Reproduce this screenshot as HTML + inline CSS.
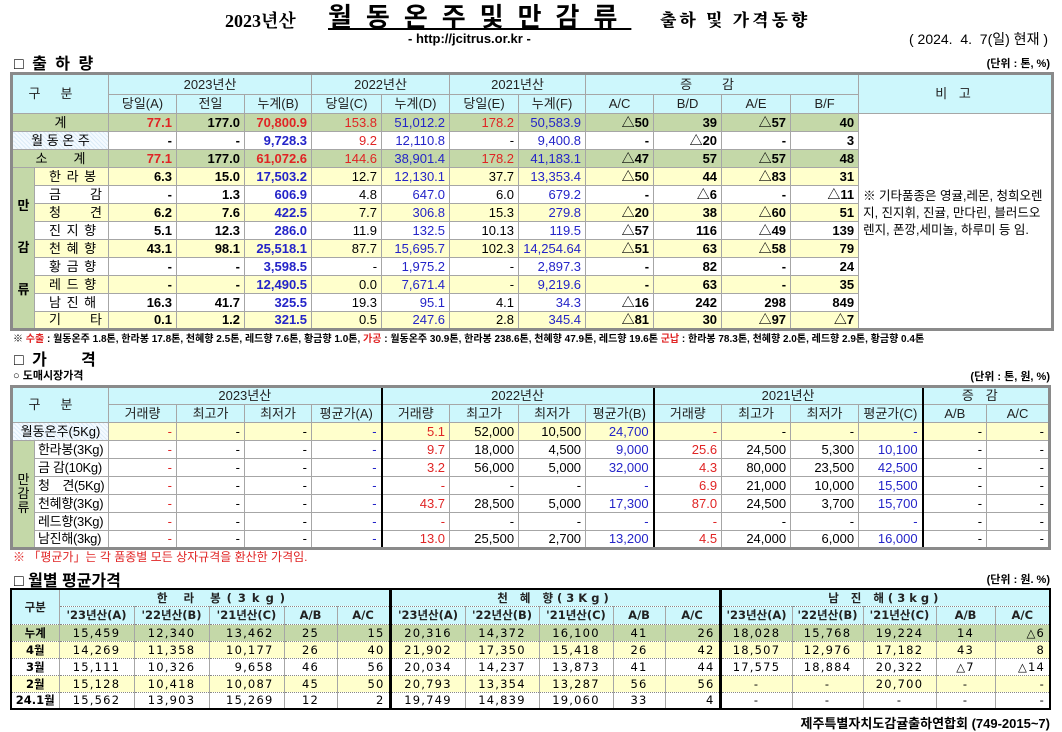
<!DOCTYPE html>
<html><head><meta charset="utf-8">
<style>
*{margin:0;padding:0;box-sizing:border-box}
body{width:1062px;height:732px;background:#fff;position:relative;overflow:hidden;font-family:"Liberation Sans","Noto Sans CJK KR",sans-serif;color:#000}
.a{position:absolute;white-space:pre}
table{position:absolute;border-collapse:collapse;table-layout:fixed}
td{border:1px solid #a6a6a6;font-size:13px;line-height:14px;padding:0 4px;text-align:right;overflow:hidden;white-space:nowrap}
.h{background:#cdf7fc;text-align:center;color:#222}
.g{background:#c4d8a8}
.y{background:#ffffcc}
.w{background:#fff}
.c{text-align:center}
.b{font-weight:bold}
.r{color:#e02424}
.u{color:#2424c8}
.dot{background:repeating-linear-gradient(45deg,#dcecf8 0 1px,#f4faff 1px 3px);text-align:center}
#t1{left:10px;top:72px;width:1041px;border:3px solid #8a8a8a}
#t2{left:10px;top:385px;width:1041px;border:3px solid #8a8a8a}
#t2 .sep{border-left:2px solid #000}
#t3{left:10px;top:588px;width:1039px;border:2px solid #000}
#t3 td{font-family:"DejaVu Sans","Noto Sans CJK KR",sans-serif;font-size:11.5px;letter-spacing:1.2px;border-top:1px dotted #888;border-bottom:1px dotted #888}
#t3 .h{font-weight:bold;letter-spacing:0}
#t3 .sep{border-left:3px solid #000}
</style></head><body>
<div class="a" style="left:225px;top:7px;font:bold 18px 'Liberation Serif','Noto Serif CJK SC',serif">2023년산</div>
<div class="a" style="left:328px;top:2px;font-weight:bold;font-size:26px;letter-spacing:14px;text-decoration:underline;line-height:30px">월동온주및만감류</div>
<div class="a" style="left:660px;top:6px;font:900 17px 'Noto Serif CJK SC',serif;letter-spacing:3px">출하 및 가격동향</div>
<div class="a" style="left:408px;top:31px;font-weight:bold;font-size:13px">- http://jcitrus.or.kr -</div>
<div class="a" style="right:14px;top:29px;font-size:14px">( 2024.  4.  7(일) 현재 )</div>
<div class="a" style="left:14px;top:50px;font-weight:bold;font-size:16px;letter-spacing:2px">□ 출 하 량</div>
<div class="a" style="right:12px;top:55px;font-size:11px;font-weight:bold">(단위 : 톤, %)</div>

<table id="t1">
<colgroup><col style="width:23px"><col style="width:74px"><col style="width:68px"><col style="width:68px"><col style="width:67px"><col style="width:70px"><col style="width:68px"><col style="width:69px"><col style="width:67px"><col style="width:68px"><col style="width:68px"><col style="width:69px"><col style="width:68px"><col style="width:194px"></colgroup>
<tbody id="t1b">
<tr style="height:21px"><td class="h" colspan="2" rowspan="2" style="letter-spacing:20px">구분</td><td class="h" colspan="3">2023년산</td><td class="h" colspan="2">2022년산</td><td class="h" colspan="2">2021년산</td><td class="h" colspan="4" style="letter-spacing:30px">증감</td><td class="h" rowspan="2" style="letter-spacing:4px">비 고</td></tr>
<tr style="height:19px"><td class="h">당일(A)</td><td class="h">전일</td><td class="h">누계(B)</td><td class="h">당일(C)</td><td class="h">누계(D)</td><td class="h">당일(E)</td><td class="h">누계(F)</td><td class="h">A/C</td><td class="h">B/D</td><td class="h">A/E</td><td class="h">B/F</td></tr>
</tbody></table>

<div class="a" style="left:13px;top:330px;font-size:10px;font-weight:bold;white-space:nowrap">※ <span style="color:#e02424">수출</span> : 월동온주 1.8톤, 한라봉 17.8톤, 천혜향 2.5톤, 레드향 7.6톤, 황금향 1.0톤, <span style="color:#e02424">가공</span> : 월동온주 30.9톤, 한라봉 238.6톤, 천혜향 47.9톤, 레드향 19.6톤 <span style="color:#e02424">군납</span> : 한라봉 78.3톤, 천혜향 2.0톤, 레드향 2.9톤, 황금향 0.4톤</div>
<div class="a" style="left:14px;top:346px;font-weight:bold;font-size:16px;letter-spacing:2px">□ 가     격</div>
<div class="a" style="left:13px;top:367px;font-weight:bold;font-size:11px">○ 도매시장가격</div>
<div class="a" style="right:12px;top:368px;font-size:11px;font-weight:bold">(단위 : 톤, 원, %)</div>

<table id="t2">
<colgroup><col style="width:23px"><col style="width:74px"><col style="width:68px"><col style="width:68px"><col style="width:67px"><col style="width:70px"><col style="width:68px"><col style="width:69px"><col style="width:67px"><col style="width:68px"><col style="width:68px"><col style="width:69px"><col style="width:68px"><col style="width:64px"><col style="width:64px"></colgroup>
<tbody id="t2b">
<tr style="height:18px"><td class="h" colspan="2" rowspan="2" style="letter-spacing:20px">구분</td><td class="h" colspan="4">2023년산</td><td class="h sep" colspan="4">2022년산</td><td class="h sep" colspan="4">2021년산</td><td class="h sep" colspan="2" style="letter-spacing:12px">증감</td></tr>
<tr style="height:18px"><td class="h">거래량</td><td class="h">최고가</td><td class="h">최저가</td><td class="h">평균가(A)</td><td class="h sep">거래량</td><td class="h">최고가</td><td class="h">최저가</td><td class="h">평균가(B)</td><td class="h sep">거래량</td><td class="h">최고가</td><td class="h">최저가</td><td class="h">평균가(C)</td><td class="h sep">A/B</td><td class="h" style="border-left:1px dotted #555">A/C</td></tr>
</tbody></table>

<div class="a" style="left:13px;top:548px;font-size:12px;color:#e02424">※ 「평균가」는 각 품종별 모든 상자규격을 환산한 가격임.</div>
<div class="a" style="left:14px;top:567px;font-weight:bold;font-size:16px">□ 월별 평균가격</div>
<div class="a" style="right:12px;top:571px;font-size:11px;font-weight:bold">(단위 : 원. %)</div>

<table id="t3">
<colgroup><col style="width:48px"><col style="width:75px"><col style="width:75px"><col style="width:75px"><col style="width:53px"><col style="width:53px"><col style="width:75px"><col style="width:74px"><col style="width:74px"><col style="width:52px"><col style="width:55px"><col style="width:72px"><col style="width:71px"><col style="width:73px"><col style="width:59px"><col style="width:55px"></colgroup>
<tbody id="t3b">
<tr style="height:17px"><td class="h" rowspan="2">구분</td><td class="h" colspan="5" style="letter-spacing:6px">한 라 봉(3kg)</td><td class="h sep" colspan="5" style="letter-spacing:4px">천 혜 향(3Kg)</td><td class="h sep" colspan="5" style="letter-spacing:4px">남 진 해(3kg)</td></tr>
<tr style="height:18px"><td class="h">'23년산(A)</td><td class="h">'22년산(B)</td><td class="h">'21년산(C)</td><td class="h">A/B</td><td class="h">A/C</td><td class="h sep">'23년산(A)</td><td class="h">'22년산(B)</td><td class="h">'21년산(C)</td><td class="h">A/B</td><td class="h">A/C</td><td class="h sep">'23년산(A)</td><td class="h">'22년산(B)</td><td class="h">'21년산(C)</td><td class="h">A/B</td><td class="h">A/C</td></tr>
</tbody></table>

<div class="a" style="right:12px;top:713px;font-weight:bold;font-size:13px">제주특별자치도감귤출하연합회 (749-2015~7)</div>

<script>
const shipNames=["계","월동온주","소계","한라봉","금감","청견","진지향","천혜향","황금향","레드향","남진해","기타"];
const shipLabels=["계","월 동 온 주","소　　계","한 라 봉","금　　감","청　　견","진 지 향","천 혜 향","황 금 향","레 드 향","남 진 해","기　　타"];
const shipFill=["g","w","g","y","w","y","w","y","w","y","w","y"];
const shipToday23=["77.1","-","77.1","6.3","-","6.2","5.1","43.1","-","-","16.3","0.1"];
const shipPrev23=["177.0","-","177.0","15.0","1.3","7.6","12.3","98.1","-","-","41.7","1.2"];
const shipCum23=["70,800.9","9,728.3","61,072.6","17,503.2","606.9","422.5","286.0","25,518.1","3,598.5","12,490.5","325.5","321.5"];
const shipToday22=["153.8","9.2","144.6","12.7","4.8","7.7","11.9","87.7","-","0.0","19.3","0.5"];
const shipCum22=["51,012.2","12,110.8","38,901.4","12,130.1","647.0","306.8","132.5","15,695.7","1,975.2","7,671.4","95.1","247.6"];
const shipToday21=["178.2","-","178.2","37.7","6.0","15.3","10.13","102.3","-","-","4.1","2.8"];
const shipCum21=["50,583.9","9,400.8","41,183.1","13,353.4","679.2","279.8","119.5","14,254.64","2,897.3","9,219.6","34.3","345.4"];
const chgAC=["△50","-","△47","△50","-","△20","△57","△51","-","-","△16","△81"];
const chgBD=["39","△20","57","44","△6","38","116","63","82","63","242","30"];
const chgAE=["△57","-","△57","△83","-","△60","△49","△58","-","-","298","△97"];
const chgBF=["40","3","48","31","△11","51","139","79","24","35","849","△7"];

function mk(tr,txt,cls){const td=document.createElement('td');td.className=cls||'';td.textContent=txt;tr.appendChild(td);return td;}

const b1=document.getElementById('t1b');
for(let i=0;i<shipNames.length;i++){
  const tr=document.createElement('tr');tr.style.height='18px';
  
  
  const f=shipFill[i], top=i<3;
  if(top){const n=mk(tr,shipLabels[i],(i==1?'dot':f)+' c');n.colSpan=2;}
  else{
    if(i==3){const m=mk(tr,'','g c b');m.rowSpan=9;m.innerHTML='만<br><br><br>감<br><br><br>류';m.style.padding='0';
      
      }
    const n=mk(tr,shipLabels[i],f);n.style.textAlign='left';n.style.paddingLeft='14px';n.style.letterSpacing='1px';
  }
  const red=top&&i!=1;
  mk(tr,shipToday23[i],f+' b'+(red?' r':''));
  mk(tr,shipPrev23[i],f+' b');
  mk(tr,shipCum23[i],f+' b'+(red?' r':' u'));
  mk(tr,shipToday22[i],f+(top&&shipToday22[i]!='-'?' r':''));
  mk(tr,shipCum22[i],f+' u');
  mk(tr,shipToday21[i],f+(red?' r':''));
  mk(tr,shipCum21[i],f+' u');
  mk(tr,chgAC[i],f+' b');mk(tr,chgBD[i],f+' b');mk(tr,chgAE[i],f+' b');mk(tr,chgBF[i],f+' b');
  if(i==0){const n=mk(tr,'※ 기타품종은 영귤,레몬, 청희오렌지, 진지휘, 진귤, 만다린, 블러드오렌지, 폰깡,세미놀, 하루미 등 임.','w');n.rowSpan=12;
    n.style.whiteSpace='normal';n.style.textAlign='left';n.style.fontSize='12.5px';n.style.lineHeight='17px';n.style.padding='0 4px 16px 4px';n.style.wordBreak='break-all';
    
    }
  b1.appendChild(tr);
}

const priceNames=["월동온주(5Kg)","한라봉(3Kg)","금 감(10Kg)","청　견(5Kg)","천혜향(3Kg)","레드향(3Kg)","남진해(3kg)"];
const vol22=["5.1","9.7","3.2","-","43.7","-","13.0"];
const hi22=["52,000","18,000","56,000","-","28,500","-","25,500"];
const lo22=["10,500","4,500","5,000","-","5,000","-","2,700"];
const avg22=["24,700","9,000","32,000","-","17,300","-","13,200"];
const vol21=["-","25.6","4.3","6.9","87.0","-","4.5"];
const hi21=["-","24,500","80,000","21,000","24,500","-","24,000"];
const lo21=["-","5,300","23,500","10,000","3,700","-","6,000"];
const avg21=["-","10,100","42,500","15,500","15,700","-","16,000"];

const b2=document.getElementById('t2b');
for(let i=0;i<priceNames.length;i++){
  const tr=document.createElement('tr');tr.style.height='18px';
  
  
  const f=i==0?'y':'w';
  if(i==0){const n=mk(tr,priceNames[i],'dot');n.colSpan=2;}
  else{
    if(i==1){const m=mk(tr,'','g c');m.rowSpan=6;m.innerHTML='만<br>감<br>류';m.style.padding='0';
      
      }
    const n=mk(tr,priceNames[i],'w');n.style.textAlign='left';n.style.paddingLeft='3px';n.style.paddingRight='0';n.style.fontSize='13px';n.style.letterSpacing='-0.3px';
  }
  mk(tr,'-',f+' r');mk(tr,'-',f);mk(tr,'-',f);mk(tr,'-',f+' u');
  mk(tr,vol22[i],f+' r sep');mk(tr,hi22[i],f);mk(tr,lo22[i],f);mk(tr,avg22[i],f+' u');
  mk(tr,vol21[i],f+' r sep');mk(tr,hi21[i],f);mk(tr,lo21[i],f);mk(tr,avg21[i],f+' u');
  mk(tr,'-',f+' sep');const l=mk(tr,'-',f);l.style.borderLeft='1px dotted #555';
  b2.appendChild(tr);
}

const monthLabels=["누계","4월","3월","2월","24.1월"];
const monthFill=["g","y","w","y","w"];
const hlbA=["15,459","14,269","15,111","15,128","15,562"];
const hlbB=["12,340","11,358","10,326","10,418","13,903"];
const hlbC=["13,462","10,177","9,658","10,087","15,269"];
const hlbAB=["25","26","46","45","12"];
const hlbAC=["15","40","56","50","2"];
const chhA=["20,316","21,902","20,034","20,793","19,749"];
const chhB=["14,372","17,350","14,237","13,354","14,839"];
const chhC=["16,100","15,418","13,873","13,287","19,060"];
const chhAB=["41","26","41","56","33"];
const chhAC=["26","42","44","56","4"];
const njhA=["18,028","18,507","17,575","-","-"];
const njhB=["15,768","12,976","18,884","-","-"];
const njhC=["19,224","17,182","20,322","20,700","-"];
const njhAB=["14","43","△7","-","-"];
const njhAC=["△6","8","△14","-","-"];

const b3=document.getElementById('t3b');
for(let i=0;i<monthLabels.length;i++){
  const tr=document.createElement('tr');tr.style.height='17px';
  
  
  const f=monthFill[i];
  const n=mk(tr,monthLabels[i],f+' c b');n.style.letterSpacing='0';n.style.padding='0';
  mk(tr,hlbA[i],f+' c');mk(tr,hlbB[i],f+' c');const c1=mk(tr,hlbC[i],f);c1.style.paddingRight='10px';mk(tr,hlbAB[i],f+' c');mk(tr,hlbAC[i],f);
  mk(tr,chhA[i],f+' c sep');mk(tr,chhB[i],f+' c');mk(tr,chhC[i],f+' c');mk(tr,chhAB[i],f+' c');mk(tr,chhAC[i],f);
  mk(tr,njhA[i],f+' c sep');mk(tr,njhB[i],f+' c');mk(tr,njhC[i],f+' c');mk(tr,njhAB[i],f+' c');mk(tr,njhAC[i],f);
  b3.appendChild(tr);
}
</script>
</body></html>
